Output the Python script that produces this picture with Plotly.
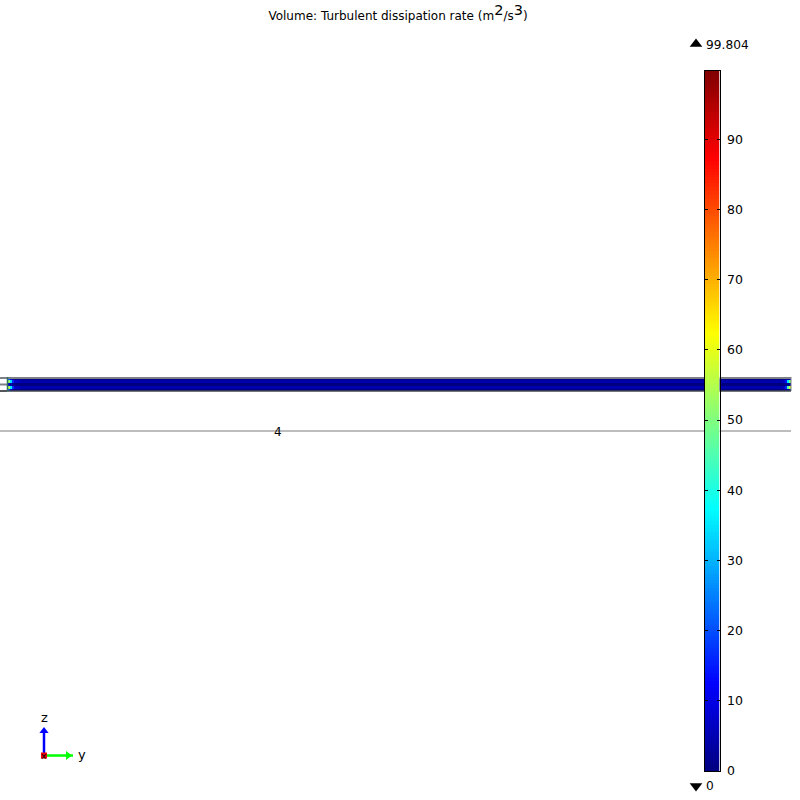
import numpy as np
import plotly.graph_objects as go

TITLE = ("Volume: Turbulent dissipation rate (m<sup><span style='font-size:14.5px'>2</span></sup>"
         "/s<sup><span style='font-size:14.5px'>3</span></sup>)")
Z_MAX = 99.804
Z_MIN = 0
BAR_TICKS = [0, 10, 20, 30, 40, 50, 60, 70, 80, 90]

JET = [[0.0, "#00007f"], [0.125, "#0000ff"], [0.375, "#00ffff"],
       [0.625, "#ffff00"], [0.875, "#ff0000"], [1.0, "#7f0000"]]

# Strip stations along the channel and across it
STATION_EDGES = [8, 10, 12, 14, 20, 400, 783, 785, 787, 789, 791]
ROW_EDGES = [378, 380, 383, 386, 389, 391]

MID_PROFILE = [0.5, 4.5, 0.2, 4.5, 0.5]
INLET_1 = [20, 52, 8, 55, 20]
INLET_2 = [10, 34, 4, 36, 10]
INLET_3 = [4, 16, 2, 17, 4]
INLET_4 = [1, 7, 0.5, 7, 1]
OUTLET_1 = [1, 7, 0.5, 7, 1]
OUTLET_2 = [2, 14, 1, 16, 2]
OUTLET_3 = [4, 35, 2, 45, 4]
OUTLET_4 = [4, 50, 3, 58, 4]

STRIP_Z = [INLET_1, INLET_2, INLET_3, INLET_4, MID_PROFILE, MID_PROFILE,
           OUTLET_1, OUTLET_2, OUTLET_3, OUTLET_4]

FRAME_X = [0, 791, None, 0, 7, None, 0, 7]
FRAME_Y = [378, 378, None, 384.5, 384.5, None, 391, 391]
FRAME_BOTTOM_X = [0, 791]
FRAME_BOTTOM_Y = [391, 391]
INLET_EDGE_X = [7.5, 7.5]
INLET_EDGE_Y = [377, 391]
OUTLET_EDGE_X = [791, 791]
OUTLET_EDGE_Y = [377, 391]
FLOOR_X = [0, 791]
FLOOR_Y = [431, 431]

fig = go.Figure()

fig.add_trace(go.Heatmap(
    x=STATION_EDGES, y=ROW_EDGES, z=np.array(STRIP_Z).T.tolist(),
    colorscale=JET, zmin=Z_MIN, zmax=Z_MAX, showscale=False, hoverinfo="skip"))

for xs, ys, col, w in [
    (FLOOR_X, FLOOR_Y, "#bdbdbd", 2),
    (FRAME_X, FRAME_Y, "#7d8187", 2),
    (FRAME_BOTTOM_X, FRAME_BOTTOM_Y, "#44484d", 1.5),
    (INLET_EDGE_X, INLET_EDGE_Y, "#2f6f62", 1.5),
    (OUTLET_EDGE_X, OUTLET_EDGE_Y, "#7d8187", 1),
]:
    fig.add_trace(go.Scatter(x=xs, y=ys, mode="lines", line=dict(color=col, width=w),
                             hoverinfo="skip", showlegend=False))

# Axis triad
fig.add_trace(go.Scatter(x=[44, 44], y=[755, 731], mode="lines", line=dict(color="#0000ff", width=2.5),
                         showlegend=False, hoverinfo="skip"))
fig.add_trace(go.Scatter(x=[44], y=[731], mode="markers", marker=dict(symbol="triangle-up", size=8, color="#0000ff"),
                         showlegend=False, hoverinfo="skip"))
fig.add_trace(go.Scatter(x=[44, 73], y=[755.5, 755.5], mode="lines", line=dict(color="#00ff00", width=2.5),
                         showlegend=False, hoverinfo="skip"))
fig.add_trace(go.Scatter(x=[68], y=[755.5], mode="markers", marker=dict(symbol="triangle-right", size=8, color="#00ff00"),
                         showlegend=False, hoverinfo="skip"))
fig.add_trace(go.Scatter(x=[44], y=[755.5], mode="markers", marker=dict(symbol="square", size=6, color="#ee0000"),
                         showlegend=False, hoverinfo="skip"))

# Max / min markers beside the colour bar
fig.add_trace(go.Scatter(x=[696], y=[44], mode="markers", marker=dict(symbol="triangle-up", size=11, color="black"),
                         showlegend=False, hoverinfo="skip"))
fig.add_trace(go.Scatter(x=[696], y=[786], mode="markers", marker=dict(symbol="triangle-down", size=11, color="black"),
                         showlegend=False, hoverinfo="skip"))

# Colour bar
bar_edges = np.linspace(Z_MIN, Z_MAX, 257)
bar_mid = (bar_edges[:-1] + bar_edges[1:]) / 2
fig.add_trace(go.Heatmap(x=[0, 1], y=bar_edges.tolist(), z=[[v] for v in bar_mid.tolist()],
                         colorscale=JET, zmin=Z_MIN, zmax=Z_MAX, showscale=False, hoverinfo="skip",
                         xaxis="x2", yaxis="y2"))

FONT = "DejaVu Sans"
def label(x, y, text, anchor="center", size=12):
    fig.add_annotation(x=x, y=y, xref="x", yref="y", text=text, showarrow=False,
                       xanchor=anchor, yanchor="middle", font=dict(family=FONT, size=size, color="black"),
                       xshift=0, yshift=0, borderpad=0)

label(278, 431.5, "4")
label(705, 44.5, f"{Z_MAX:.3f}", "left", 12.2)
label(705, 786, f"{Z_MIN}", "left", 12.2)
label(44, 717, "z", size=13)
label(82, 754, "y", size=13)
label(44, 755.5, "x", size=9)

H = 807
fig.update_layout(
    width=800, height=H, autosize=False,
    margin=dict(l=0, r=0, t=0, b=0),
    paper_bgcolor="white", plot_bgcolor="white",
    showlegend=False,
    font=dict(family=FONT, size=12, color="black"),
    title=dict(text=TITLE, x=398/800, xanchor="center", y=1-16/H, yanchor="middle",
               font=dict(family=FONT, size=12, color="black")),
    xaxis=dict(range=[0, 800], domain=[0, 1], visible=False, fixedrange=True),
    yaxis=dict(range=[800, 0], domain=[0, 1], visible=False, fixedrange=True),
    xaxis2=dict(range=[0, 1], domain=[704.5/800, 719.5/800], anchor="y2", showline=True, linecolor="black",
                linewidth=1, mirror=True, showticklabels=False, ticks="", showgrid=False, zeroline=False,
                fixedrange=True),
    yaxis2=dict(range=[Z_MIN, Z_MAX], domain=[1-771/800, 1-70.5/800], anchor="x2", side="right",
                showline=True, linecolor="black", linewidth=1, mirror="ticks",
                ticks="inside", ticklen=3, tickcolor="black", tickwidth=1, tickmode="array", tickvals=BAR_TICKS,
                ticktext=[str(t) for t in BAR_TICKS], ticklabelstandoff=4, showgrid=False, zeroline=False,
                tickfont=dict(family=FONT, size=12.5, color="black"), fixedrange=True),
)

fig.write_html("out.html", config={"displayModeBar": False},
               post_script="document.body.style.margin='0';document.documentElement.style.overflow='hidden';")
